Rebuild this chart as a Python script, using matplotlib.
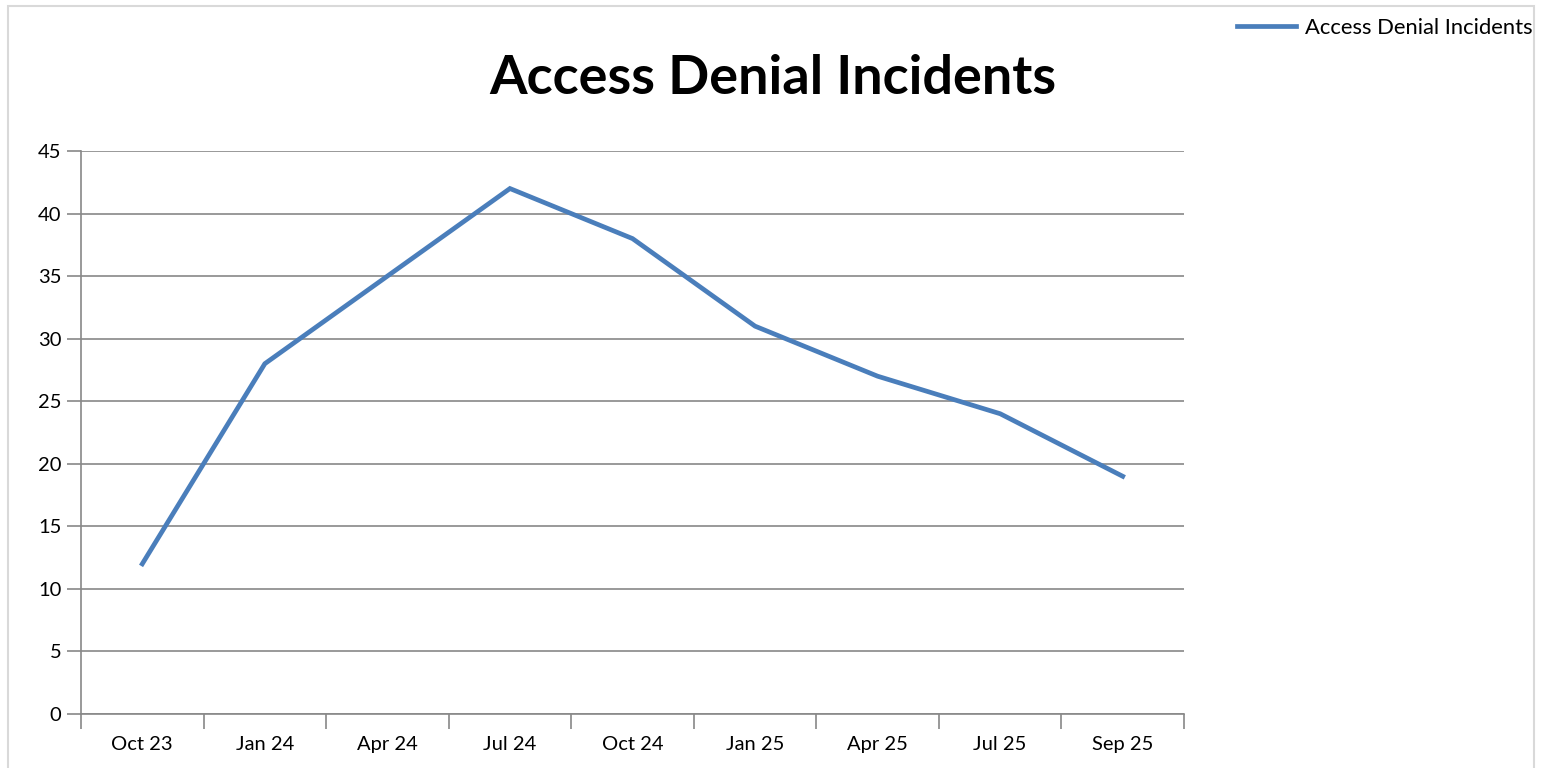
import matplotlib
matplotlib.use("Agg")
import matplotlib.pyplot as plt
from matplotlib.patches import Rectangle

# data
months = ["Oct 23", "Jan 24", "Apr 24", "Jul 24", "Oct 24",
          "Jan 25", "Apr 25", "Jul 25", "Sep 25"]
incidents = [12, 28, 35, 42, 38, 31, 27, 24, 19]
y_ticks = list(range(0, 50, 5))

plt.rcParams["font.family"] = ["Lato", "DejaVu Sans"]

W, H = 1543, 768
fig = plt.figure(figsize=(W / 100, H / 100), dpi=100)
ax = fig.add_axes([81 / W, 1 - 714 / H, (1184 - 81) / W, (714 - 151) / H])

x = list(range(len(months)))
ax.plot(x, incidents, color="#4a7ebb", linewidth=3.4,
        label="Access Denial Incidents", solid_joinstyle="miter")

grey = "#888888"
ax.set_xlim(-0.5, len(months) - 0.5)
ax.set_ylim(0, 45)
ax.set_yticks(y_ticks)
ax.yaxis.grid(True, color=grey, linewidth=1.2)
ax.set_axisbelow(True)

ax.set_xticks(x)
ax.set_xticklabels(months)
ax.set_xticks([i - 0.5 for i in range(len(months) + 1)], minor=True)
ax.tick_params(axis="x", which="major", length=0, pad=15.5, labelsize=14.5)
ax.tick_params(axis="x", which="minor", length=11, width=1.2, color=grey)
ax.tick_params(axis="y", length=10, width=1.2, color=grey, labelsize=14.5, pad=4)

for side in ["top", "right"]:
    ax.spines[side].set_visible(False)
for side in ["left", "bottom"]:
    ax.spines[side].set_color(grey)
    ax.spines[side].set_linewidth(1.2)

fig.text(0.501, 1 - 78 / H, "Access Denial Incidents", ha="center", va="center",
         fontsize=39, fontweight="bold")

fig.legend(loc="upper right", bbox_to_anchor=(1552 / W, 1 + 2 / H), frameon=False,
           fontsize=15.8, handlelength=2.7, handletextpad=0.4)

fig.patches.append(Rectangle((8 / W, -0.1), (1534 - 8) / W, 1.1 - 6 / H,
                             transform=fig.transFigure, fill=False,
                             edgecolor="#d9d9d9", linewidth=1.5))

fig.savefig("out.png", dpi=100)
